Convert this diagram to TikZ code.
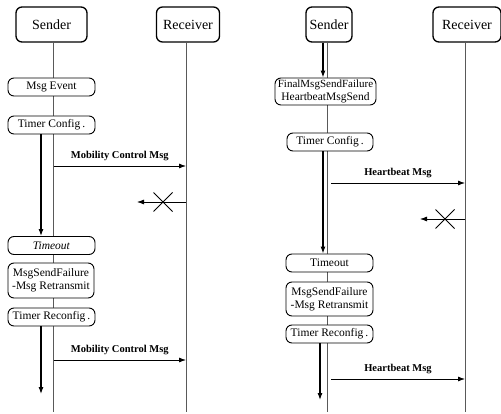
\documentclass[tikz,border=0pt]{standalone}
\usepackage{fontspec}
\setmainfont{Liberation Serif}
\usetikzlibrary{arrows.meta,shapes.misc}

\tikzset{
  actor/.style={draw,line width=1.3pt,rounded corners=6pt,fill=white,minimum height=35pt,inner sep=2pt,font=\fontsize{14}{16}\selectfont},
  event/.style={draw,line width=0.9pt,rounded corners=6pt,fill=white,minimum width=87pt,minimum height=18pt,inner xsep=2pt,inner ysep=1pt,align=center,font=\fontsize{11.5}{13}\selectfont},
  life/.style={draw=black!65,line width=0.5pt,double,double distance=3pt},
  msg/.style={-{Latex[length=7pt,width=5pt]},line width=0.8pt},
  timer/.style={-{Latex[length=7pt,width=5pt]},line width=1.1pt},
  lost/.style={cross out,draw,line width=1pt,minimum width=18pt,minimum height=18pt,inner sep=0pt},
  msglabel/.style={above=1pt,font=\bfseries\fontsize{10.5}{12}\selectfont}
}

\begin{document}
\begin{tikzpicture}[x=1pt,y=-1pt]
\useasboundingbox (0,0) rectangle (501,414);

% -- actors
\node[actor,minimum width=71pt] (sndA) at (51.5,24.5) {Sender};
\node[actor,minimum width=63pt] (rcvA) at (188,24.5) {Receiver};
\node[actor,minimum width=46pt] (sndB) at (329,24.5) {Sender};
\node[actor,minimum width=68pt] (rcvB) at (467,24.5) {Receiver};

% -- lifelines
\coordinate (endsA) at (51.5,412);
\coordinate (endrA) at (188,412);
\coordinate (endsB) at (329,412);
\coordinate (endrB) at (467,412);
\draw[life] (sndA.south) -- (endsA);
\draw[life] (rcvA.south) -- (endrA);
\draw[life] (sndB.south) -- (endsB);
\draw[life] (rcvB.south) -- (endrB);

% -- left: sender side events
\node[event] (evA) at (51.5,87) {Msg Event};
\node[event] (tcA) at (51.5,125) {Timer Config\,.};
\node[event] (toA) at (51.5,245.5) {\textit{Timeout}};
\node[event,minimum width=86pt,minimum height=35pt] (fxA) at (51,280.5) {MsgSendFailure\\-Msg Retransmit};
\node[event] (trA) at (51.5,317) {Timer Reconfig\,.};

% -- right: sender side events
\node[event,minimum width=101pt,minimum height=27pt] (fnB) at (325.5,91.5) {\fontsize{11}{12}\selectfont FinalMsgSendFailure\\HeartbeatMsgSend};
\node[event,minimum width=86pt] (tcB) at (330,142) {Timer Config\,.};
\node[event] (toB) at (329.5,263) {Timeout};
\node[event,minimum height=34pt] (fxB) at (329.5,299) {MsgSendFailure\\-Msg Retransmit};
\node[event] (trB) at (329.5,334) {Timer Reconfig\,.};

% -- timers
\coordinate (tendA) at (41,394);
\coordinate (tendB) at (320,400);
\draw[timer] ([xshift=-10.5pt]tcA.south) -- ([xshift=-10.5pt]tcA.south |- toA.north);
\draw[timer] ([xshift=-10.5pt]trA.south) -- (tendA);
\draw[timer] ([xshift=-6pt]sndB.south) -- ([xshift=-6pt]sndB.south |- fnB.north);
\draw[timer] ([xshift=-7pt]tcB.south) -- ([xshift=-7pt]tcB.south |- toB.north);
\draw[timer] ([xshift=-9.5pt]trB.south) -- (tendB);

% -- messages
\coordinate (m1s) at (53.5,166);
\coordinate (m1e) at (186,166);
\coordinate (m2s) at (53.5,360);
\coordinate (m2e) at (186,360);
\coordinate (h1s) at (331,183);
\coordinate (h1e) at (465,183);
\coordinate (h2s) at (331,379);
\coordinate (h2e) at (465,379);
\draw[msg] (m1s) -- (m1e) node[midway,msglabel] {Mobility Control Msg};
\draw[msg] (m2s) -- (m2e) node[midway,msglabel] {Mobility Control Msg};
\draw[msg] (h1s) -- (h1e) node[midway,msglabel] {Heartbeat Msg};
\draw[msg] (h2s) -- (h2e) node[midway,msglabel] {Heartbeat Msg};

% -- lost messages
\coordinate (l1s) at (186,202);
\coordinate (l1e) at (137,202);
\coordinate (l2s) at (465,219);
\coordinate (l2e) at (420,219);
\draw[msg] (l1s) -- (l1e);
\draw[msg] (l2s) -- (l2e);
\node[lost] (xA) at (163,202) {};
\node[lost] (xB) at (445,219) {};
\end{tikzpicture}
\end{document}
